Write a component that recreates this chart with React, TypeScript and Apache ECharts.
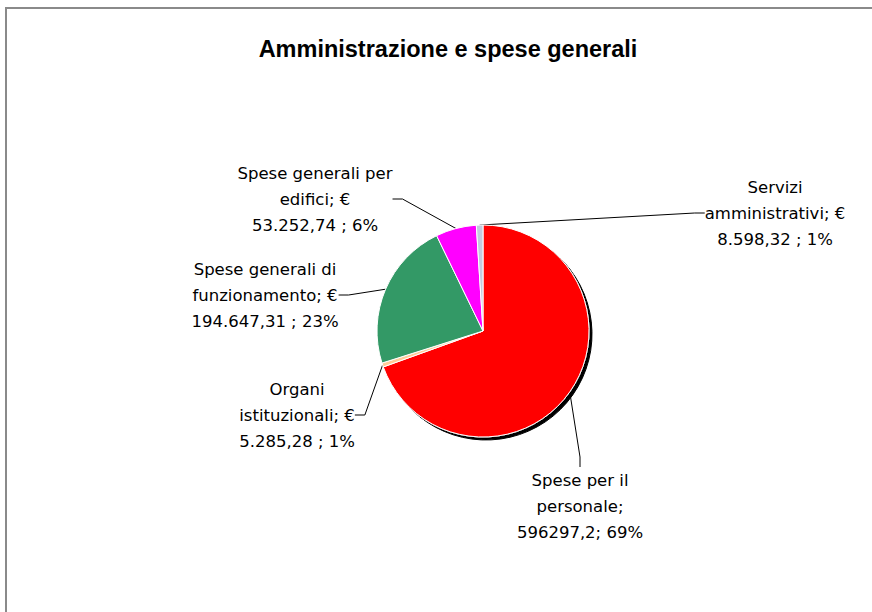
import React, { useEffect, useRef } from "react";
import * as echarts from "echarts";

const title = "Amministrazione e spese generali";
const categories = [
  "Spese per il personale",
  "Organi istituzionali",
  "Spese generali di funzionamento",
  "Spese generali per edifici",
  "Servizi amministrativi",
];
// where the name wraps in the label (first line / rest)
const nameFirstLines = ["Spese per il", "Organi", "Spese generali di", "Spese generali per", "Servizi"];
const nameSecondLines = ["personale", "istituzionali", "funzionamento", "edifici", "amministrativi"];
const values = [596297.2, 5285.28, 194647.31, 53252.74, 8598.32];
const euroFormat = [false, true, true, true, true];
const colors = ["#FF0000", "#FFCC99", "#339966", "#FF00FF", "#C3CADF"];
// label anchor (centre of the text block)
const labelPos: [number, number][] = [
  [580, 506],
  [297, 415],
  [265, 295],
  [315, 199],
  [775, 213],
];

function fmtIt(v: number): string {
  const fixed = v.toFixed(2);
  const [intPart, dec] = fixed.split(".");
  const grouped = intPart.replace(/\B(?=(\d{3})+(?!\d))/g, ".");
  return grouped + "," + dec;
}
function fmtRaw(v: number): string {
  return String(v).replace(".", ",");
}

export default function App() {
  const ref = useRef<HTMLDivElement>(null);
  useEffect(() => {
    document.body.style.margin = "0";
    const chart = echarts.init(ref.current!, undefined, { renderer: "svg" });
    const total = values.reduce((a, b) => a + b, 0);
    const option: any = {
      animation: false,
      backgroundColor: "#ffffff",
      graphic: [
        {
          type: "rect",
          shape: { x: 6, y: 8, width: 900, height: 700 },
          style: { fill: "none", stroke: "#8a8a8a", lineWidth: 2 },
          silent: true,
        },
        {
          type: "text",
          x: 448,
          y: 49,
          style: {
            text: title,
            font: "bold 23.5px 'Liberation Sans', Arial, sans-serif",
            fill: "#000",
            textAlign: "center",
            textVerticalAlign: "middle",
          },
        },
      ],
      series: [
        {
          type: "pie",
          center: [483, 331],
          radius: 106,
          startAngle: 90,
          clockwise: true,
          minAngle: 0,
          avoidLabelOverlap: false,
          data: values.map((v, i) => ({
            name: categories[i],
            value: v,
            itemStyle:
              i === 0
                ? {
                    color: colors[i],
                    shadowColor: "#000",
                    shadowBlur: 1,
                    shadowOffsetX: 3,
                    shadowOffsetY: 3,
                  }
                : { color: colors[i] },
          })),
          itemStyle: { borderColor: "#fff", borderWidth: 1 },
          label: {
            show: true,
            position: "outside",
            color: "#000",
            fontFamily: "'DejaVu Sans', sans-serif",
            fontSize: 16.5,
            lineHeight: 26,
            align: "center",
            formatter: (p: any) => {
              const i = p.dataIndex;
              const pct = Math.round((values[i] / total) * 100);
              if (euroFormat[i]) {
                return `${nameFirstLines[i]}\n${nameSecondLines[i]}; €\n${fmtIt(values[i])} ; ${pct}%`;
              }
              return `${nameFirstLines[i]}\n${nameSecondLines[i]};\n${fmtRaw(values[i])}; ${pct}%`;
            },
          },
          labelLine: {
            show: true,
            length: 10,
            length2: 10,
            lineStyle: { color: "#000", width: 1 },
          },
          labelLayout: (params: any) => {
            const [x, y] = labelPos[params.dataIndex];
            return { x, y, align: "center", verticalAlign: "middle" };
          },
          emphasis: { disabled: true },
        },
      ],
    };
    chart.setOption(option);
    return () => chart.dispose();
  }, []);
  return <div ref={ref} style={{ width: 872, height: 612 }} />;
}
